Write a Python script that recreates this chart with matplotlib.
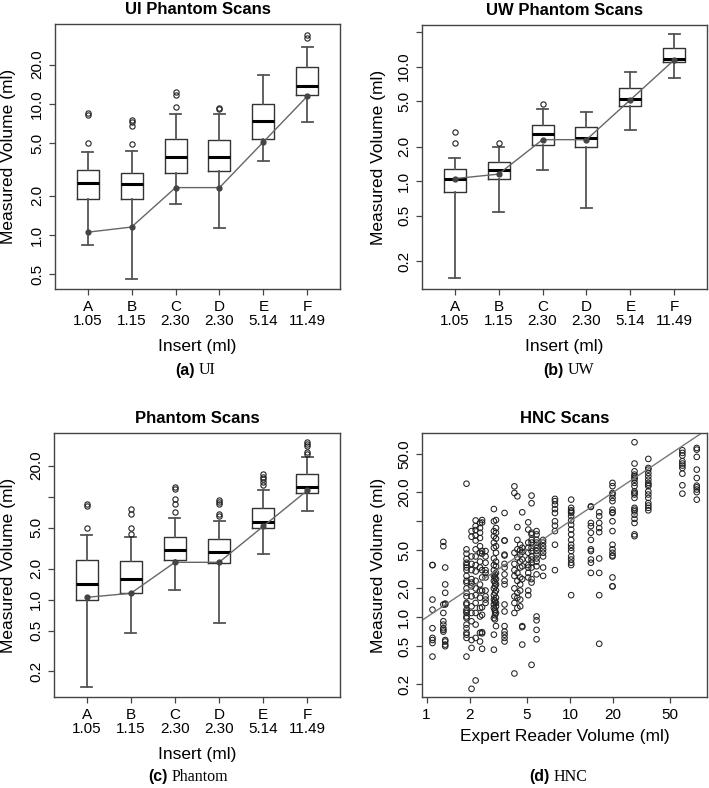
import numpy as np
import matplotlib.pyplot as plt
from matplotlib.ticker import FixedLocator, FixedFormatter, NullLocator

plt.rcParams['font.family'] = ['Liberation Sans', 'DejaVu Sans']

# inserts and their true volumes (ml)
inserts = ['A', 'B', 'C', 'D', 'E', 'F']
true_vol = [1.05, 1.15, 2.30, 2.30, 5.14, 11.49]

# UI phantom scans
ui_q1 = [1.88, 1.88, 2.95, 3.09, 5.45, 11.7]
ui_med = [2.50, 2.46, 3.97, 3.92, 7.38, 13.7]
ui_q3 = [3.13, 2.97, 5.41, 5.29, 10.0, 19.2]
ui_lo = [0.834, 0.465, 1.72, 1.14, 3.68, 7.25]
ui_hi = [4.29, 4.36, 8.44, 8.34, 16.7, 27.0]
ui_out = [[5.02, 8.25, 8.6], [4.96, 6.8, 7.3, 7.55], [9.55, 11.7, 12.3],
          [9.16, 9.38], [], [31.8, 33.7]]

# UW phantom scans
uw_q1 = [0.80, 1.05, 2.05, 1.99, 4.57, 10.9]
uw_med = [1.05, 1.25, 2.57, 2.39, 5.26, 11.7]
uw_q3 = [1.27, 1.46, 3.06, 2.94, 6.47, 14.6]
uw_lo = [0.141, 0.54, 1.25, 0.585, 2.80, 7.91]
uw_hi = [1.60, 2.0, 4.30, 4.05, 8.93, 19.1]
uw_out = [[2.14, 2.69], [2.14], [4.76], [], [], []]

# all phantom scans
ph_q1 = [1.0, 1.17, 2.44, 2.25, 4.93, 10.9]
ph_med = [1.42, 1.60, 3.03, 2.92, 5.72, 12.5]
ph_q3 = [2.41, 2.39, 4.06, 3.91, 7.82, 16.5]
ph_lo = [0.141, 0.468, 1.24, 0.589, 2.80, 7.26]
ph_hi = [4.25, 4.03, 6.25, 5.85, 11.7, 24.1]
ph_out = [[5.0, 8.06, 8.49], [4.34, 4.93, 6.74, 7.54],
          [7.1, 8.49, 9.57, 11.8, 12.3], [6.54, 6.79, 8.4, 8.94, 9.28],
          [13.1, 13.9, 14.7, 15.6, 16.7], [25.9, 27.2, 31.0, 32.4, 33.7]]

# HNC scans: expert reader volume -> measured volumes
hnc_x = [1.10, 1.31, 1.35, 1.90, 2.06, 2.20, 2.36, 2.44, 2.58, 2.95, 3.0, 3.05,
         3.5, 4.1, 4.3, 4.5, 4.65, 5.12, 5.4, 5.85, 6.5, 7.86, 10.2, 14.0,
         16.0, 19.8, 28.2, 35.2, 60.8, 76.6]
hnc_y = [
    [3.5, 3.5, 1.53, 1.20, 0.77, 0.61, 0.58, 0.54, 0.39],
    [6.1, 5.5, 1.36, 1.11, 0.91, 0.84, 0.77, 0.74, 0.71],
    [3.3, 2.2, 1.8, 1.39, 1.36, 0.58, 0.56, 0.52, 0.50],
    [24.6, 5.1, 4.6, 4.05, 3.7, 3.5, 3.3, 3.1, 2.7, 2.4, 2.3, 2.0, 1.8, 1.65,
     1.41, 1.36, 1.20, 1.15, 1.11, 1.02, 0.98, 0.84, 0.77, 0.69, 0.66, 0.61, 0.39],
    [7.9, 6.9, 4.3, 3.6, 3.1, 2.5, 2.3, 2.1, 1.65, 1.30, 1.11, 0.91, 0.58, 0.48, 0.18],
    [10.2, 8.9, 8.1, 7.1, 6.3, 5.1, 4.3, 3.5, 3.0, 2.4, 2.0, 1.7, 1.41, 1.11,
     0.84, 0.61, 0.22],
    [9.6, 8.5, 7.6, 6.7, 5.5, 4.7, 3.8, 3.3, 2.2, 1.9, 1.6, 1.25, 1.02, 0.69, 0.56],
    [10.3, 9.7, 4.9, 4.6, 3.1, 2.6, 1.9, 1.27, 1.06, 0.70, 0.68, 0.47],
    [4.9, 4.3, 3.7, 3.1, 2.9, 2.6, 1.9, 1.65, 1.53, 1.41],
    [13.4, 10.0, 7.9, 7.0, 6.0, 5.3, 4.1, 3.5, 3.1, 2.7, 2.4, 2.0, 1.7, 1.53,
     1.36, 1.25, 0.98, 0.66, 0.46],
    [2.8, 2.6, 2.3, 2.1, 1.8, 1.5, 1.45, 1.2, 1.15, 1.05, 0.95],
    [10.3, 8.5, 7.6, 6.6, 5.5, 4.7, 3.8, 3.4, 2.9, 2.5, 2.2, 1.9, 1.6, 1.41,
     1.30, 1.11, 0.81],
    [12.2, 6.3, 6.3, 4.5, 4.4, 3.6, 3.3, 2.8, 2.4, 2.2, 1.36, 1.15, 0.81, 0.71,
     0.66, 0.61, 0.56],
    [23.1, 19.7, 4.7, 3.6, 3.1, 2.7, 2.0, 1.65, 1.41, 1.11, 0.26],
    [18.2, 8.7, 6.4, 5.1, 4.2, 2.9, 2.4, 1.8, 1.6, 1.25],
    [5.7, 5.0, 4.5, 3.8, 3.3, 2.6, 2.2, 1.9, 1.53, 1.3],
    [12.4, 5.3, 4.8, 4.0, 3.4, 2.5, 0.81, 0.79, 0.52],
    [9.75, 8.2, 6.0, 5.3, 4.7, 4.0, 3.5, 3.3, 2.9, 2.6, 1.9, 1.7],
    [18.5, 15.4, 7.6, 7.3, 6.4, 6.0, 5.3, 4.9, 4.3, 4.0, 3.7, 3.3, 2.5, 2.3, 0.32],
    [7.9, 7.3, 6.4, 6.0, 5.7, 5.3, 4.9, 4.5, 4.1, 3.8, 3.4, 2.8, 1.02, 0.93,
     0.74, 0.59],
    [6.4, 6.0, 5.5, 5.1, 4.7, 4.3, 3.3, 2.7],
    [17.1, 16.2, 14.9, 13.4, 12.2, 10.0, 9.0, 7.9, 5.7, 3.1],
    [16.8, 13.8, 13.0, 12.6, 12.2, 11.3, 10.2, 9.2, 8.2, 7.3, 6.4, 5.7, 5.3,
     4.9, 4.3, 4.0, 3.7, 3.5, 1.7],
    [14.3, 14.1, 9.6, 8.9, 7.6, 6.4, 5.1, 4.9, 4.0, 3.7, 2.9],
    [12.4, 11.3, 9.6, 8.5, 7.7, 4.1, 2.9, 1.7, 0.53],
    [25.1, 23.2, 19.7, 19.0, 17.5, 16.2, 13.2, 12.4, 12.2, 10.0, 7.9, 5.7, 5.1,
     4.7, 4.4, 4.3, 2.6, 2.1, 2.1],
    [66.5, 39.9, 33.1, 30.6, 29.4, 28.2, 27.1, 25.1, 23.2, 20.5, 19.7, 19.0,
     17.5, 13.8, 13.2, 12.7, 11.7, 10.6, 9.6, 7.3, 7.0],
    [44.6, 35.9, 34.5, 31.8, 29.4, 27.1, 25.1, 24.1, 23.2, 20.5, 19.0, 17.5,
     15.5, 14.6, 13.8, 13.0],
    [54.9, 51.5, 48.3, 42.2, 39.9, 38.0, 35.9, 31.3, 23.7, 19.4],
    [58.0, 55.7, 46.8, 34.5, 28.2, 23.5, 22.6, 21.4, 20.1, 16.8],
]

W, H = 709, 788
fig = plt.figure(figsize=(W / 100, H / 100), dpi=100)


def add_ax(l, t, r, b):
    return fig.add_axes([l / W, 1 - b / H, (r - l) / W, (b - t) / H])


def fmt_ticks(ax, ticks, labels):
    ax.yaxis.set_major_locator(FixedLocator(ticks))
    ax.yaxis.set_major_formatter(FixedFormatter(labels))
    ax.yaxis.set_minor_locator(NullLocator())
    for lab in ax.get_yticklabels():
        lab.set_rotation(90)
        lab.set_va('center')


def style(ax):
    for s in ax.spines.values():
        s.set_color('#444444')
        s.set_linewidth(1.0)
    ax.tick_params(length=4.5, width=0.9, color='#444444', labelsize=11,
                   pad=3.5)


def box_panel(ax, q1, med, q3, lo, hi, out, title, ylim, ticks, labels, xlab_y):
    pos = np.arange(1, 7)
    ax.set_yscale('log')
    stats = [dict(q1=a, med=m, q3=c, whislo=l, whishi=h, fliers=f)
             for a, m, c, l, h, f in zip(q1, med, q3, lo, hi, out)]
    ax.bxp(stats, positions=pos, widths=0.5, capwidths=0.25,
           boxprops=dict(color='#333333', lw=1.0),
           whiskerprops=dict(color='#555555', lw=1.3),
           capprops=dict(color='#555555', lw=1.3),
           medianprops=dict(color='black', lw=2.2),
           flierprops=dict(marker='o', mfc='none', mec='#222222', ms=3.8, mew=0.8))
    ax.plot(pos, true_vol, '-', color='#666666', lw=1.0, zorder=4)
    ax.plot(pos, true_vol, 'o', color='#444444', ms=3.5, zorder=5)
    ax.set_xlim(0.26, 6.74)
    ax.set_ylim(*ylim)
    ax.set_xticks(pos)
    ax.set_xticklabels([f'{c}\n{v:.2f}' for c, v in zip(inserts, true_vol)],
                       linespacing=1.0)
    style(ax)
    fmt_ticks(ax, ticks, labels)
    ax.set_title(title, fontweight='bold', fontsize=12, pad=7)
    ax.set_xlabel('Insert (ml)', fontsize=12.5)
    ax.set_ylabel('Measured Volume (ml)', fontsize=12.5)
    ax.xaxis.set_label_coords(0.5, xlab_y)


ax1 = add_ax(55, 24, 340, 289)
box_panel(ax1, ui_q1, ui_med, ui_q3, ui_lo, ui_hi, ui_out, 'UI Phantom Scans',
          (0.387, 40.8), [0.5, 1, 2, 5, 10, 20],
          ['0.5', '1.0', '2.0', '5.0', '10.0', '20.0'], -0.19)
ax1.yaxis.set_label_coords(-0.137, 0.5)

ax2 = add_ax(422, 25, 707, 289)
box_panel(ax2, uw_q1, uw_med, uw_q3, uw_lo, uw_hi, uw_out, 'UW Phantom Scans',
          (0.114, 23.1), [0.2, 0.5, 1, 2, 5, 10, 20],
          ['0.2', '0.5', '1.0', '2.0', '5.0', '10.0', ''], -0.19)
ax2.yaxis.set_label_coords(-0.126, 0.5)

ax3 = add_ax(54, 433, 340, 697)
box_panel(ax3, ph_q1, ph_med, ph_q3, ph_lo, ph_hi, ph_out, 'Phantom Scans',
          (0.113, 41.5), [0.2, 0.5, 1, 2, 5, 10, 20],
          ['0.2', '0.5', '1.0', '2.0', '5.0', '', '20.0'], -0.19)
ax3.yaxis.set_label_coords(-0.133, 0.5)

# HNC scatter
ax4 = add_ax(422, 433, 707, 697)
xs = np.concatenate([np.full(len(v), x) for x, v in zip(hnc_x, hnc_y)])
ys = np.concatenate([np.array(v) for v in hnc_y])
ax4.set_xscale('log')
ax4.set_yscale('log')
ax4.scatter(xs, ys, s=16, facecolors='none', edgecolors='#222222', linewidths=0.75)
ax4.plot([0.5, 200], [0.5, 200], color='#777777', lw=1.0)
ax4.set_xlim(0.93, 90.3)
ax4.set_ylim(0.148, 83)
style(ax4)
ax4.xaxis.set_major_locator(FixedLocator([1, 2, 5, 10, 20, 50]))
ax4.xaxis.set_major_formatter(FixedFormatter(['1', '2', '5', '10', '20', '50']))
ax4.xaxis.set_minor_locator(NullLocator())
fmt_ticks(ax4, [0.2, 0.5, 1, 2, 5, 10, 20, 50],
          ['0.2', '0.5', '1.0', '2.0', '5.0', '', '20.0', '50.0'])
ax4.set_title('HNC Scans', fontweight='bold', fontsize=12, pad=7)
ax4.set_xlabel('Expert Reader Volume (ml)', fontsize=12.5)
ax4.set_ylabel('Measured Volume (ml)', fontsize=12.5)
ax4.xaxis.set_label_coords(0.5, -0.12)
ax4.yaxis.set_label_coords(-0.126, 0.5)

# sub-captions
caps = [(195, 370, '(a)', 'UI'), (564, 370, '(b)', 'UW'),
        (168, 777, '(c)', 'Phantom'), (550, 777, '(d)', 'HNC')]
for cx, cy, tag, name in caps:
    fig.text(cx / W, 1 - cy / H, tag, ha='right', va='center', fontsize=11.5,
             fontweight='bold')
    fig.text((cx + 4) / W, 1 - cy / H, name, ha='left', va='center',
             fontsize=11.5, family=['Liberation Serif', 'DejaVu Serif'])

fig.savefig('out.png', dpi=100)
